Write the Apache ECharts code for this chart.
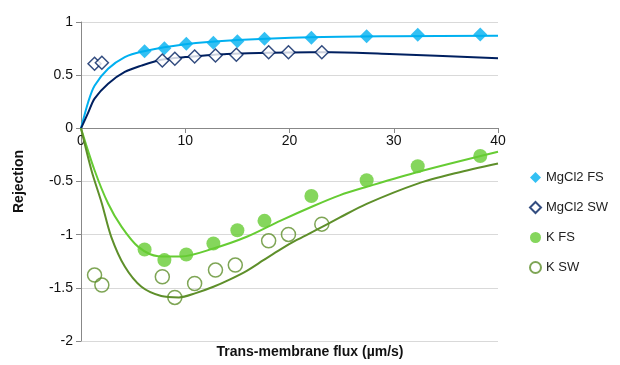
<!DOCTYPE html>
<html>
<head>
<meta charset="utf-8">
<script src="https://cdn.jsdelivr.net/npm/echarts@6/dist/echarts.min.js"></script>
<style>
  html, body { margin: 0; padding: 0; background: #fff; }
  #main { width: 620px; height: 365px; }
</style>
</head>
<body>
<div id="main"></div>
<script>
// measured points: [flux, rejection]
var mgFsPts = [[6.1, 0.726], [8.0, 0.754], [10.1, 0.795], [12.7, 0.805], [15.0, 0.82], [17.6, 0.842], [22.1, 0.852], [27.4, 0.867], [32.3, 0.88], [38.3, 0.883]];
var mgSwPts = [[1.3, 0.607], [2.0, 0.617], [7.8, 0.638], [9.0, 0.654], [10.9, 0.676], [12.9, 0.685], [14.9, 0.692], [18.0, 0.716], [19.9, 0.716], [23.1, 0.716]];
var kFsPts = [[6.1, -1.139], [8.0, -1.239], [10.1, -1.186], [12.7, -1.083], [15.0, -0.958], [17.6, -0.87], [22.1, -0.636], [27.4, -0.488], [32.3, -0.357], [38.3, -0.26]];
var kSwPts = [[1.3, -1.38], [2.0, -1.474], [7.8, -1.396], [9.0, -1.59], [10.9, -1.459], [12.9, -1.333], [14.8, -1.286], [18.0, -1.058], [19.9, -0.998], [23.1, -0.901]];

// model curves
var mgFsFit = [[0, 0], [0.7, 0.25], [1.3, 0.40], [2.6, 0.56], [4.2, 0.67], [5.8, 0.72], [10, 0.79], [15, 0.83], [22, 0.857], [30, 0.866], [40, 0.87]];
var mgSwFit = [[0, 0], [0.7, 0.15], [1.3, 0.28], [2.6, 0.42], [4.2, 0.53], [5.8, 0.59], [7.7, 0.645], [10, 0.67], [14, 0.70], [22, 0.716], [24, 0.716], [29.6, 0.70], [40, 0.66]];
var kFsFit = [[0, 0], [1.3, -0.394], [2.6, -0.707], [3.9, -0.927], [5.5, -1.115], [7.4, -1.202], [9.6, -1.205], [12.7, -1.13], [15.9, -1.02], [19.1, -0.87], [22.3, -0.73], [24.8, -0.63], [27.4, -0.55], [32.3, -0.41], [40, -0.22]];
var kSwFit = [[0, 0], [1.0, -0.394], [2.0, -0.707], [2.9, -1.02], [4.2, -1.30], [5.8, -1.49], [7.7, -1.577], [9.4, -1.59], [11, -1.55], [12.7, -1.49], [14.3, -1.42], [15.9, -1.34], [17.5, -1.24], [19.1, -1.14], [20.7, -1.05], [22.3, -0.97], [24.8, -0.84], [27.4, -0.71], [32.3, -0.52], [36, -0.42], [40, -0.33]];

var xTicks = [0, 10, 20, 30, 40];
var yTicks = [-2, -1.5, -1, -0.5, 0, 0.5, 1];

var names = ['MgCl2 FS', 'MgCl2 SW', 'K FS', 'K SW'];
var cBlue = '#00B0F0', cNavy = '#002060', cGreen = '#66CC33', cOlive = '#5E8F2A';

var chart = echarts.init(document.getElementById('main'));

function fitLine(data, color) {
  return {
    type: 'line', data: data, smooth: 0.3, showSymbol: false, silent: true,
    lineStyle: { color: color, width: 2 }, z: 1
  };
}

chart.setOption({
  animation: false,
  textStyle: { fontFamily: 'Liberation Sans, Arial, sans-serif' },
  grid: { left: 81, right: 122, top: 22, bottom: 24, outerBoundsMode: 'none', containLabel: false },
  legend: {
    data: names,
    orient: 'vertical',
    left: 524, top: 166,
    itemGap: 17,
    itemWidth: 11, itemHeight: 11,
    textStyle: { fontSize: 13, color: '#222' }
  },
  graphic: [{
    type: 'text', left: 'center', top: 345,
    style: { text: 'Trans-membrane flux (µm/s)', fontSize: 14, fontWeight: 'bold', fill: '#111',
      fontFamily: 'Liberation Sans, Arial, sans-serif', x: -41 }
  }],
  xAxis: {
    type: 'value', min: xTicks[0], max: xTicks[xTicks.length - 1], interval: 10,
    position: 'bottom', offset: -213,
    axisLine: { onZero: false, lineStyle: { color: '#888' } },
    axisTick: { show: true, length: 5, lineStyle: { color: '#888' } },
    axisLabel: { fontSize: 14, color: '#111', margin: 6 },
    splitLine: { show: false }
  },
  yAxis: {
    type: 'value', min: yTicks[0], max: yTicks[yTicks.length - 1], interval: 0.5,
    axisLine: { show: true, lineStyle: { color: '#888' } },
    axisTick: { show: true, length: 5, lineStyle: { color: '#888' } },
    axisLabel: { fontSize: 14, color: '#111', margin: 8 },
    splitLine: { lineStyle: { color: '#d9d9d9', width: 1 } },
    name: 'Rejection',
    nameLocation: 'middle', nameGap: 55,
    nameTextStyle: { fontSize: 14, fontWeight: 'bold', color: '#111' }
  },
  series: [
    fitLine(mgFsFit, cBlue),
    fitLine(mgSwFit, cNavy),
    fitLine(kFsFit, cGreen),
    fitLine(kSwFit, cOlive),
    { name: names[0], type: 'scatter', data: mgFsPts, symbol: 'diamond', symbolSize: 14,
      itemStyle: { color: cBlue }, z: 3 },
    { name: names[1], type: 'scatter', data: mgSwPts, symbol: 'diamond', symbolSize: 13,
      itemStyle: { color: '#fff', borderColor: cNavy, borderWidth: 1.5 }, z: 3 },
    { name: names[2], type: 'scatter', data: kFsPts, symbol: 'circle', symbolSize: 14,
      itemStyle: { color: cGreen }, z: 3 },
    { name: names[3], type: 'scatter', data: kSwPts, symbol: 'circle', symbolSize: 14,
      itemStyle: { color: 'rgba(255,255,255,0)', borderColor: cOlive, borderWidth: 1.5 }, z: 3 }
  ]
});
</script>
</body>
</html>
